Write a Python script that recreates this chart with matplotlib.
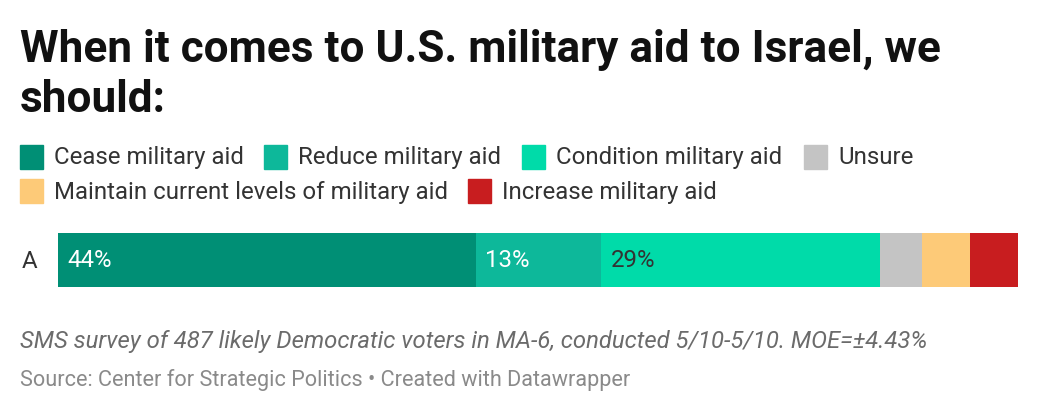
import matplotlib
matplotlib.use('Agg')
import matplotlib.pyplot as plt
from matplotlib.patches import Rectangle

plt.rcParams['font.family'] = ['Roboto', 'DejaVu Sans']

categories = ['Cease military aid', 'Reduce military aid', 'Condition military aid',
              'Unsure', 'Maintain current levels of military aid', 'Increase military aid']
values = [43.5, 13.1, 29.0, 4.4, 5.0, 5.0]
colors = ['#008f75', '#0db89a', '#00dba9', '#c4c4c4', '#fdca78', '#c81d1f']
label_colors = ['white', 'white', '#333333', None, None, None]
row_label = 'A'

W, H = 1040, 414
fig = plt.figure(figsize=(W / 100, H / 100), dpi=100)

def fx(px): return px / W
def fy(py): return 1 - py / H

fig.text(fx(20), fy(62), 'When it comes to U.S. military aid to Israel, we', fontsize=31.8,
         fontweight='bold', color='#111111')
fig.text(fx(20), fy(112), 'should:', fontsize=31.8, fontweight='bold', color='#111111')

# legend
legend_pos = [(20, 158), (264, 158), (522, 158), (804, 158), (20, 192), (468, 192)]
for (x, y), lab, c in zip(legend_pos, categories, colors):
    fig.add_artist(Rectangle((fx(x), fy(y + 12)), fx(23), 24 / H, color=c,
                             transform=fig.transFigure))
    fig.text(fx(x + 34), fy(y), lab, fontsize=17.3, color='#333333', va='center')

# bar
ax = fig.add_axes([fx(58), fy(288), fx(960), 54 / H])
left = 0
for v, c, lc in zip(values, colors, label_colors):
    ax.barh(0, v, left=left, color=c, height=1.0)
    if lc:
        ax.text(left + 1, 0, f'{v:.0f}%', color=lc, fontsize=17.3, va='center')
    left += v
ax.set_xlim(0, sum(values))
ax.set_ylim(-0.5, 0.5)
ax.axis('off')
fig.text(fx(30), fy(261), row_label, fontsize=17.3, color='#333333', va='center', ha='center')

fig.text(fx(20), fy(342), 'SMS survey of 487 likely Democratic voters in MA-6, conducted 5/10-5/10. MOE=±4.43%',
         fontsize=17.2, style='italic', color='#6b6b6b', va='center')
fig.text(fx(20), fy(380), 'Source: Center for Strategic Politics • Created with Datawrapper',
         fontsize=15.6, color='#8a8a8a', va='center')

fig.savefig('out.png', dpi=100)
